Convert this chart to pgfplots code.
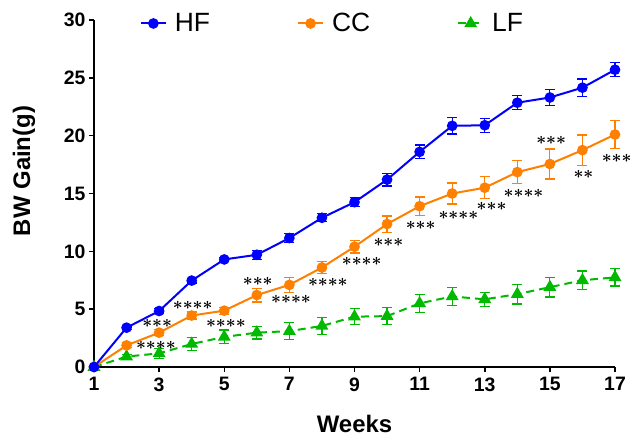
\documentclass[border=0pt]{standalone}
\usepackage{fontspec}
\setmainfont{Liberation Sans}
\usepackage{pgfplots}
\pgfplotsset{compat=1.18}
\usepackage{pgfplotstable}

\definecolor{hfblue}{RGB}{0,0,255}
\definecolor{ccorange}{RGB}{255,128,0}
\definecolor{lfgreen}{RGB}{0,185,0}

% week, mean, sem
\pgfplotstableread{
wk  hf     hfe   cc     cce   lf    lfe
1   0      0     0      0     0     0
2   3.40   0.15  1.87   0.20  0.90  0.20
3   4.84   0.20  2.97   0.25  1.18  0.45
4   7.47   0.20  4.45   0.30  1.99  0.55
5   9.30   0.20  4.87   0.30  2.60  0.60
6   9.70   0.40  6.22   0.60  2.97  0.55
7   11.15  0.40  7.10   0.65  3.10  0.75
8   12.90  0.35  8.60   0.55  3.55  0.75
9   14.25  0.40  10.40  0.55  4.35  0.70
10  16.20  0.55  12.36  0.70  4.40  0.75
11  18.60  0.60  13.90  0.80  5.50  0.80
12  20.85  0.70  15.00  0.90  6.10  0.80
13  20.90  0.60  15.50  0.95  5.85  0.60
14  22.85  0.60  16.85  1.00  6.30  0.85
15  23.30  0.70  17.55  1.30  6.90  0.85
16  24.15  0.75  18.75  1.30  7.50  0.80
17  25.70  0.60  20.10  1.20  7.75  0.75
}\bwdata

\newcommand{\stars}[1]{{\boldmath\ifcase#1\or${\ast}$\or${\ast}{\ast}$\or${\ast}{\ast}{\ast}$\or${\ast}{\ast}{\ast}{\ast}$\fi}}

\begin{document}
\begin{tikzpicture}
\useasboundingbox (-94bp,-72bp) rectangle (536bp,367bp);
\begin{axis}[
    scale only axis,
    width=521bp, height=347bp,
    anchor=south west, at={(0,0)},
    xmin=1, xmax=17, ymin=0, ymax=30,
    xtick={1,3,...,17},
    ytick={0,5,...,30},
    axis x line*=bottom, axis y line*=left,
    axis line style={-, line width=1.8bp, black},
    tick style={line width=1.5bp, black},
    tick align=outside,
    major tick length=5bp,
    /pgf/number format/assume math mode=true,
    tick label style={font=\fontsize{19.5}{22}\selectfont\bfseries},
    xticklabel style={yshift=-2bp},
    xlabel={Weeks},
    ylabel={BW Gain(g)},
    every axis x label/.style={at={(rel axis cs:0.5,0)}, yshift=-57bp, anchor=center,
        font=\fontsize{24}{27}\selectfont\bfseries},
    every axis y label/.style={at={(rel axis cs:0,0.565)}, xshift=-70bp, rotate=90, anchor=center,
        font=\fontsize{24}{28}\selectfont\bfseries},
    clip=false,
    reverse legend,
    legend columns=3,
    legend style={at={(rel axis cs:0.082,0.99)}, anchor=west, draw=none, fill=none,
        font=\fontsize{26.5}{30}\selectfont,
        /tikz/every odd column/.append style={column sep=6bp},
        /tikz/every even column/.append style={column sep=85bp}},
    legend image code/.code={%
        \draw[mark repeat=2,mark phase=2] plot coordinates {(0bp,0bp)(12.5bp,0bp)(25bp,0bp)};},
    every axis plot/.append style={line width=2bp},
    error bars/y dir=both, error bars/y explicit,
    error bars/error bar style={line width=1.2bp, solid},
    error bars/error mark options={rotate=90, mark size=5bp, line width=1.2bp, solid},
]
\addplot[color=lfgreen, dashed, dash pattern=on 8bp off 5bp, mark=triangle*, mark size=5.5bp, mark options={solid}]
    table[x=wk, y=lf, y error=lfe] {\bwdata};
\addlegendentry{LF}
\addplot[color=ccorange, mark=*, mark size=4.3bp]
    table[x=wk, y=cc, y error=cce] {\bwdata};
\addlegendentry{CC}
\addplot[color=hfblue, mark=*, mark size=4.3bp]
    table[x=wk, y=hf, y error=hfe] {\bwdata};
\addlegendentry{HF}

% significance marks
\begin{scope}[every node/.style={font=\fontsize{18}{18}\selectfont, inner sep=0pt}]
\node at (axis cs:2.94,3.78)  {\stars{3}};
\node at (axis cs:2.90,1.90)  {\stars{4}};
\node at (axis cs:4.03,5.30)  {\stars{4}};
\node at (axis cs:5.05,3.78)  {\stars{4}};
\node at (axis cs:6.03,7.37)  {\stars{3}};
\node at (axis cs:7.05,5.85)  {\stars{4}};
\node at (axis cs:8.18,7.30)  {\stars{4}};
\node at (axis cs:9.22,9.10)  {\stars{4}};
\node at (axis cs:10.04,10.74) {\stars{3}};
\node at (axis cs:11.03,12.27) {\stars{3}};
\node at (axis cs:12.19,13.14) {\stars{4}};
\node at (axis cs:13.21,13.86) {\stars{3}};
\node at (axis cs:14.19,15.00) {\stars{4}};
\node at (axis cs:15.04,19.56) {\stars{3}};
\node at (axis cs:16.03,16.68) {\stars{2}};
\node at (axis cs:17.05,18.04) {\stars{3}};
\end{scope}
\end{axis}
\end{tikzpicture}
\end{document}
